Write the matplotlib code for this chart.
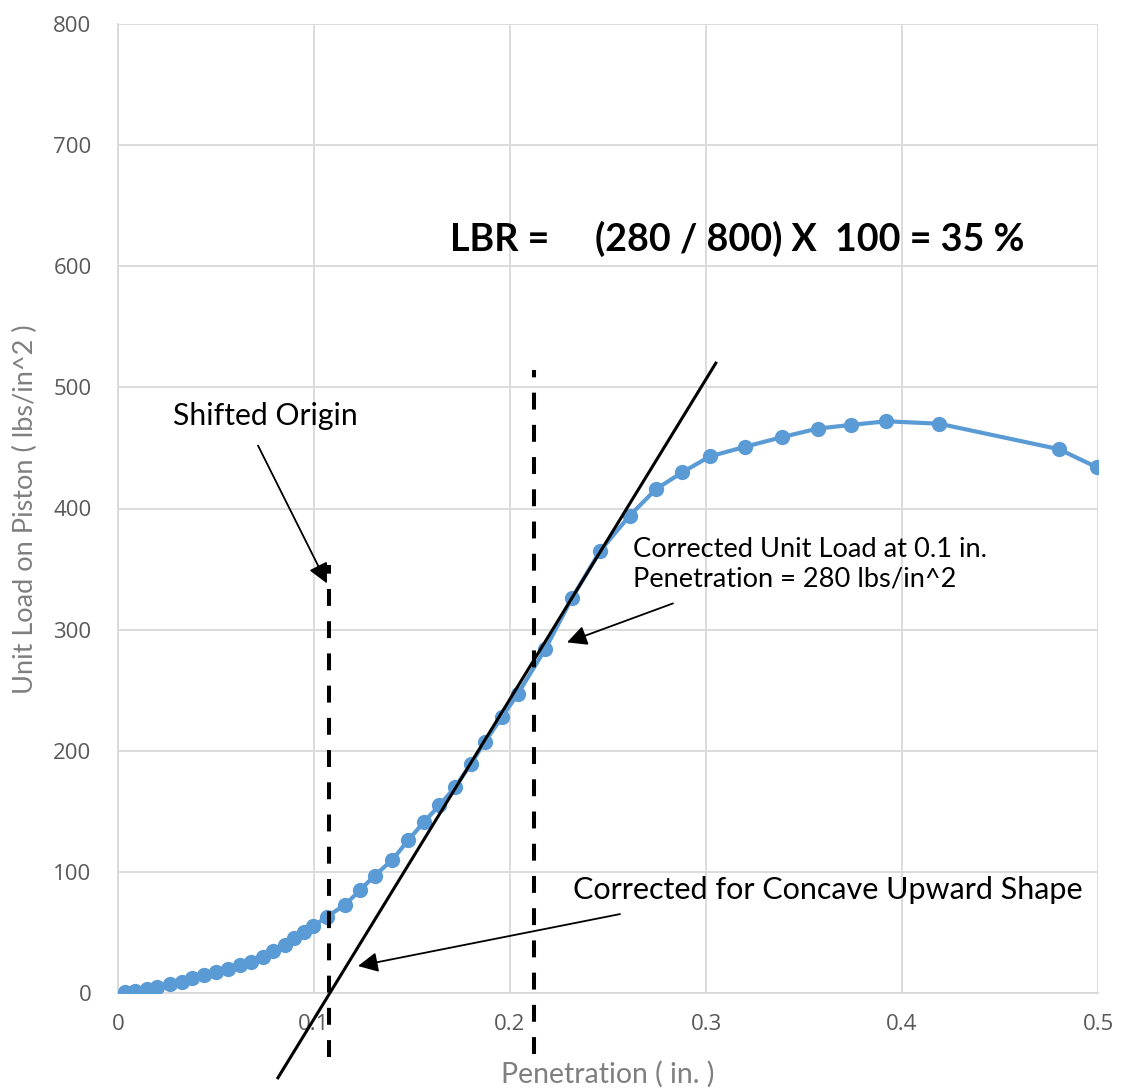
import numpy as np
import matplotlib
matplotlib.use("Agg")
import matplotlib.pyplot as plt

# Penetration (in.) and unit load (lbs/in^2)
penetration = [0.0036, 0.0087, 0.015, 0.020, 0.0265, 0.0327, 0.038, 0.044, 0.050,
               0.056, 0.062, 0.068, 0.074, 0.079, 0.085, 0.090, 0.095, 0.0995,
               0.1066, 0.116, 0.1235, 0.131, 0.140, 0.148, 0.156, 0.164, 0.172,
               0.180, 0.187, 0.196, 0.204, 0.218, 0.2316, 0.246, 0.261, 0.2745,
               0.288, 0.302, 0.320, 0.339, 0.357, 0.374, 0.392, 0.419, 0.480, 0.4995]
unit_load = [1, 2, 3.5, 5, 7.5, 9, 12, 15, 17,
             20, 23, 26, 30, 35, 40, 45, 50, 55,
             63, 73, 85, 97, 110, 126, 141, 155, 170,
             189, 207, 228, 247, 284, 326, 365, 394, 416,
             430, 443, 451, 459, 466, 469, 472, 470, 449, 434]

# tangent line (corrected for concave upward shape)
tangent_x = [0.0816, 0.305]
tangent_y = [-70, 520]

# dashed verticals: shifted origin and corrected 0.1 in. penetration
shifted_origin_x = 0.1077
shifted_origin_y = [-53, 353]
corrected_x = 0.212
corrected_y = [-50, 514]

gray_text = "#595959"
blue = "#5B9BD5"

fig = plt.figure(figsize=(11.23, 10.90), dpi=100)
ax = fig.add_axes([118 / 1123, 97 / 1090, 980 / 1123, 969 / 1090])

ax.plot(penetration, unit_load, color=blue, lw=3, marker="o", ms=11,
        markeredgewidth=0, zorder=3)
ax.plot(tangent_x, tangent_y, color="black", lw=2.2, clip_on=False, zorder=4)
ax.plot([shifted_origin_x] * 2, shifted_origin_y, color="black", lw=2.9,
        dashes=(4.2, 3.8), clip_on=False, zorder=4)
ax.plot([corrected_x] * 2, corrected_y, color="black", lw=2.9,
        dashes=(4.2, 3.8), clip_on=False, zorder=4)

ax.set_xlim(0, 0.5)
ax.set_ylim(0, 800)
ax.set_xticks([0, 0.1, 0.2, 0.3, 0.4, 0.5])
ax.set_xticklabels(["0", "0.1", "0.2", "0.3", "0.4", "0.5"])
ax.set_yticks(range(0, 801, 100))
ax.grid(True, color="#D9D9D9", lw=1.3)
ax.set_axisbelow(True)
for side in ["top", "right"]:
    ax.spines[side].set_visible(False)
for side in ["left", "bottom"]:
    ax.spines[side].set_color("#D9D9D9")
    ax.spines[side].set_linewidth(1.3)
ax.tick_params(length=0, labelsize=16, labelcolor=gray_text)
ax.tick_params(axis="y", pad=19)
ax.tick_params(axis="x", pad=15)
for lab in ax.get_xticklabels() + ax.get_yticklabels():
    lab.set_family("Open Sans")

xl = fig.text(608 / 1123, 1 - 1074 / 1090, "Penetration ( in. )", ha="center",
              va="center", color="#7F7F7F", family="Lato", fontsize=16)
yl = fig.text(25 / 1123, 1 - 509 / 1090, "Unit Load on Piston ( lbs/in^2 )",
              ha="center", va="center", rotation=90, color="#7F7F7F",
              family="Lato", fontsize=16)


def px(x, y):
    # pixel position in the 1123x1090 picture -> data coordinates
    return ((x - 118) / 1960, (993 - y) / 1.2125)


lbr = ax.text(*px(450, 238), "LBR =     (280 / 800) X  100 = 35 %",
              family="Lato", weight="bold", fontsize=24, va="center")
shifted = ax.text(*px(173, 415), "Shifted Origin", family="Lato",
                  fontsize=17, va="center")
unit = ax.text(*px(633, 564), "Corrected Unit Load at 0.1 in.\nPenetration = 280 lbs/in^2",
               family="Lato", fontsize=17, va="center", linespacing=1.25)
concave = ax.text(*px(573, 890), "Corrected for Concave Upward Shape",
                  family="Lato", fontsize=17, va="center")

arrow = dict(arrowstyle="-|>", color="black", lw=1.3, mutation_scale=30,
             shrinkA=0, shrinkB=0)
ax.annotate("", xy=px(327, 583), xytext=px(258, 445), arrowprops=arrow)
ax.annotate("", xy=px(567, 642), xytext=px(673, 603), arrowprops=arrow)
ax.annotate("", xy=px(358, 966), xytext=px(620, 914), arrowprops=arrow)

# scale the annotation fonts so each text spans the width it has in the chart
renderer = fig.canvas.get_renderer()
for txt, width in [(lbr, 575), (shifted, 185), (unit, 355), (concave, 509),
                   (xl, 214), (yl, 370)]:
    ext = txt.get_window_extent(renderer)
    w = ext.height if txt.get_rotation() == 90 else ext.width
    txt.set_fontsize(txt.get_fontsize() * width / w)

fig.savefig("out.png", dpi=100)
